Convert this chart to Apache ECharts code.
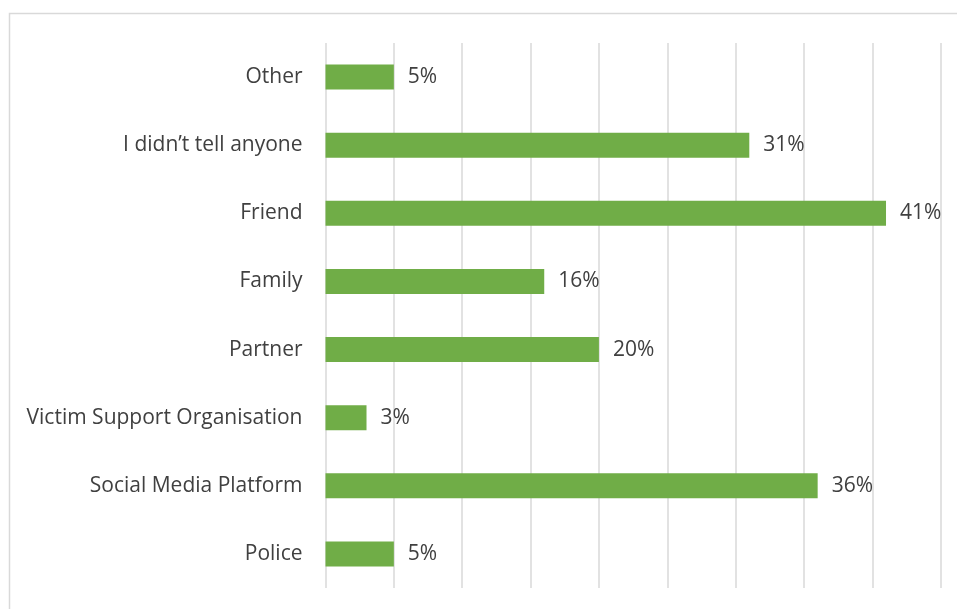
<!DOCTYPE html>
<html>
<head>
<meta charset="utf-8">
<script src="https://cdn.jsdelivr.net/npm/echarts@6/dist/echarts.min.js"></script>
<style>
html,body{margin:0;padding:0;background:#fff;}
#chart{width:957px;height:609px;}
</style>
</head>
<body>
<div id="chart"></div>
<script>
const categories = ["Police", "Social Media Platform", "Victim Support Organisation", "Partner", "Family", "Friend", "I didn’t tell anyone", "Other"];
const values = [5, 36, 3, 20, 16, 41, 31, 5];
const axisMax = 45;
const axisStep = 5;

const chart = echarts.init(document.getElementById('chart'), null, {renderer: 'canvas'});
const FONT = "'Open Sans', 'Liberation Sans', sans-serif";
chart.setOption({
  animation: false,
  backgroundColor: '#ffffff',
  graphic: [{
    type: 'rect',
    shape: {x: 9.5, y: 13.5, width: 960, height: 620},
    style: {fill: 'none', stroke: '#d9d9d9', lineWidth: 1.5},
    silent: true
  }],
  grid: {left: 325.5, right: 16.3, top: 43, bottom: 21, containLabel: false},
  xAxis: {
    type: 'value', min: 0, max: axisMax, interval: axisStep,
    axisLabel: {show: false}, axisLine: {show: false}, axisTick: {show: false},
    splitLine: {show: true, lineStyle: {color: '#d9d9d9', width: 1.5}}
  },
  yAxis: {
    type: 'category', data: categories,
    axisLine: {show: false}, axisTick: {show: false},
    axisLabel: {color: '#404040', fontSize: 21, fontFamily: FONT, margin: 23, padding: [3, 0, 0, 0]}
  },
  series: [{
    type: 'bar', data: values, barWidth: 25,
    itemStyle: {color: '#70ad47'},
    label: {show: true, position: 'right', distance: 14, formatter: '{c}%', color: '#404040', fontSize: 21, fontFamily: FONT, padding: [3, 0, 0, 0]}
  }]
});
</script>
</body>
</html>
